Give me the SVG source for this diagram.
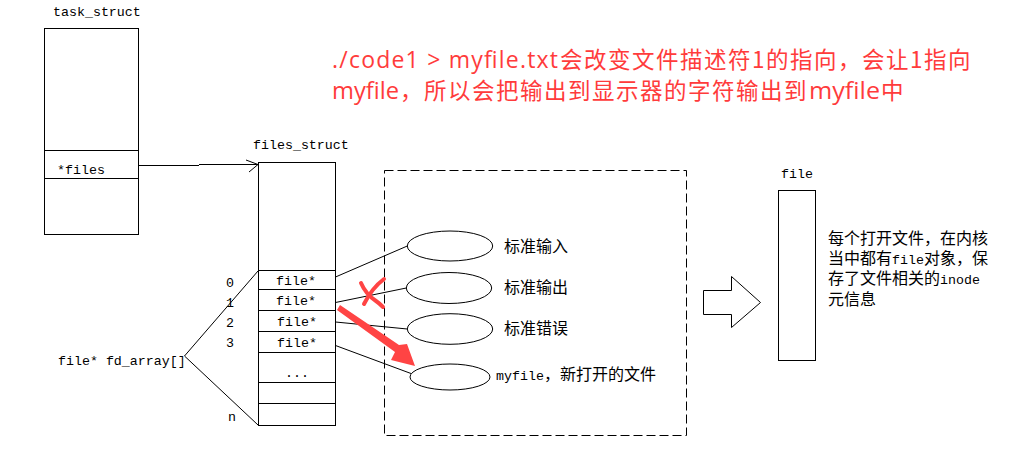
<svg xmlns="http://www.w3.org/2000/svg" width="1019" height="457" viewBox="0 0 1019 457">
<style>
.box{fill:#fff;stroke:#000;stroke-width:1}
.ln{fill:none;stroke:#000;stroke-width:1}
.mono{font-family:"Liberation Mono","Noto Sans CJK SC",monospace;font-size:13.3px;fill:#000}
.cjk{font-family:"Noto Sans CJK SC","Liberation Sans",sans-serif;font-size:16px}
.red{font-family:"Noto Sans CJK SC","Liberation Sans",sans-serif;font-size:22.5px;letter-spacing:1.5px;fill:#ff3b3b}
.lat{font-family:"Open Sans","Liberation Sans",sans-serif;font-size:23px;letter-spacing:0;fill:#ff3b3b}
.mark{fill:none;stroke:#ff4444;stroke-width:4;stroke-linecap:round;stroke-linejoin:round}
</style>
<rect width="1019" height="457" fill="#fff"/>

<g id="task_struct">
<text class="mono" x="53" y="16">task_struct</text>
<rect class="box" x="44.5" y="28.5" width="94" height="206"/>
<line class="ln" x1="44.5" y1="150.5" x2="138.5" y2="150.5"/>
<line class="ln" x1="44.5" y1="178.5" x2="138.5" y2="178.5"/>
<text class="mono" x="57" y="174">*files</text>
</g>

<g id="files_struct">
<text class="mono" x="253" y="149">files_struct</text>
<rect class="box" x="258.5" y="162.5" width="77" height="263"/>
<path class="ln" d="M258.5 270.5H335.5M258.5 289.5H335.5M258.5 310.5H335.5M258.5 331.5H335.5M258.5 352.5H335.5M258.5 382.5H335.5M258.5 403.5H335.5"/>
<text class="mono" x="296" y="285" text-anchor="middle">file*</text>
<text class="mono" x="296" y="305" text-anchor="middle">file*</text>
<text class="mono" x="297" y="326" text-anchor="middle">file*</text>
<text class="mono" x="297" y="347" text-anchor="middle">file*</text>
<text class="mono" x="297" y="377" text-anchor="middle">...</text>
<text class="mono" x="226" y="287">0</text>
<text class="mono" x="226" y="307">1</text>
<text class="mono" x="226" y="327">2</text>
<text class="mono" x="226" y="347">3</text>
<text class="mono" x="228" y="421">n</text>
</g>

<g id="fd_array">
<text class="mono" x="58" y="365">file* fd_array[]</text>
</g>

<g id="file_objects">
<rect x="384.5" y="170.5" width="302" height="265" fill="none" stroke="#000" stroke-width="1" stroke-dasharray="9,4"/>
</g>

<g id="stdin">
<ellipse class="box" cx="450" cy="246" rx="42.7" ry="15"/>
<text class="cjk" x="504" y="252">标准输入</text>
</g>
<g id="stdout">
<ellipse class="box" cx="449" cy="288" rx="42.7" ry="15.5"/>
<text class="cjk" x="504" y="293">标准输出</text>
</g>
<g id="stderr">
<ellipse class="box" cx="450" cy="329" rx="42.7" ry="15.3"/>
<text class="cjk" x="504" y="334">标准错误</text>
</g>
<g id="myfile">
<ellipse class="box" cx="450" cy="377" rx="40" ry="13"/>
<text class="mono" x="496" y="380">myfile<tspan class="cjk">，新打开的文件</tspan></text>
</g>

<g id="file">
<text class="mono" x="781" y="178">file</text>
<rect class="box" x="778.5" y="190.5" width="37" height="170"/>
<text class="mono" x="828" y="244"><tspan class="cjk">每个打开文件，在内核</tspan></text>
<text class="mono" x="828" y="264"><tspan class="cjk">当中都有</tspan>file<tspan class="cjk">对象，保</tspan></text>
<text class="mono" x="828" y="284"><tspan class="cjk">存了文件相关的</tspan>inode</text>
<text class="mono" x="828" y="305"><tspan class="cjk">元信息</tspan></text>
</g>

<g id="note">
<text class="lat" x="332" y="68" textLength="226" lengthAdjust="spacing">./code1 &gt; myfile.txt</text>
<text class="red" x="560" y="68">会改变文件描述符1的指向，会让1指向</text>
<text class="lat" x="332" y="99" textLength="67" lengthAdjust="spacingAndGlyphs">myfile</text>
<text class="red" x="400" y="99">，所以会把输出到显示器的字符输出到</text>
<text class="lat" x="809" y="99" textLength="71" lengthAdjust="spacingAndGlyphs">myfile</text>
<text class="red" x="881" y="99">中</text>
</g>

<g id="connectors">
<path class="ln" d="M138.5 165.5H199M199 164.5H258"/>
<path class="ln" d="M246 160L258 164.5L249 172"/>
<path class="ln" d="M258 271L184.5 356L258 425"/>
<line class="ln" x1="335.5" y1="277" x2="407.3" y2="246"/>
<line class="ln" x1="335.5" y1="302.5" x2="406.3" y2="288"/>
<line class="ln" x1="335.5" y1="322" x2="407.3" y2="329"/>
<line class="ln" x1="335.5" y1="345.5" x2="411" y2="373.5"/>
<polygon class="box" points="703.5,290.5 731.5,290.5 731.5,276.5 760.5,302.5 731.5,327.5 731.5,314.5 703.5,314.5"/>
</g>

<g id="annotation">
<path class="mark" d="M384 279C376 285 369 294 364 304"/>
<path class="mark" d="M361 283C364 290 370 297 376 301C379 303 381 305 383 307"/>
<polygon fill="#ff4444" points="337,310 340,305 399,345 407,344 415,366 391,360 395,352"/>
</g>
</svg>
